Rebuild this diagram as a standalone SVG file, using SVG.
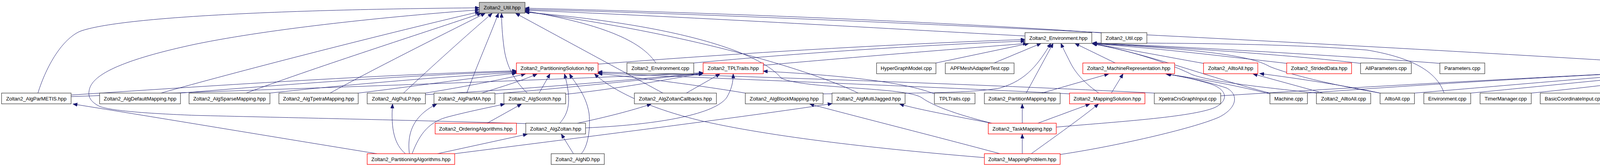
<svg xmlns="http://www.w3.org/2000/svg" width="5987" height="427" viewBox="0 0 5987 427">
<style>
.n rect{fill:#fff;stroke:#404040;stroke-width:1.3}
.n.r rect{stroke:#ff0000}
.n.g rect{fill:#bfbfbf}
text{font-family:"Liberation Sans",Arial,sans-serif;font-size:13px;text-anchor:middle;fill:#000}
#edges path{fill:none;stroke:#191970;stroke-width:1;marker-end:url(#a)}
</style>
<defs>
<marker id="a" markerWidth="12" markerHeight="9" refX="11" refY="4.5" orient="auto" markerUnits="userSpaceOnUse"><path d="M0,0 L11,4.5 L0,9 z" fill="#191970" stroke="#191970" stroke-width="1"/></marker>
</defs>
<rect width="5987" height="427" fill="#fff"/>
<g id="edges">
<path d="M97,238 C120,165 160,100 205,80 C310,42 750,24 1227,20"/>
<path d="M1347,316 C1000,306 700,300 500,295 C400,291 290,285 255,272 C235,262 225,250 228,233 C232,200 280,160 500,113 C700,72 1000,42 1227,25"/>
<path d="M412,238 C600,185 950,95 1227,30"/>
<path d="M630,238 C800,175 1050,95 1232,34"/>
<path d="M845,238 C950,180 1120,95 1242,34"/>
<path d="M1033,238 C1100,175 1200,85 1260,34"/>
<path d="M1195,238 C1220,170 1255,90 1276,34"/>
<path d="M1350,238 C1310,200 1295,160 1290,120 C1286,90 1284,60 1284,34"/>
<path d="M1697,238 L1320,34"/>
<path d="M2819,84 C2600,68 2000,36 1344,21"/>
<path d="M4337,168 C3500,115 2100,42 1344,24"/>
<path d="M2624,92 C2300,75 1800,45 1344,26"/>
<path d="M1679,161 C1650,118 1580,68 1344,28"/>
<path d="M2197,238 C2100,190 1800,90 1344,30"/>
<path d="M2543,316 C2460,296 2390,272 2360,250 C2320,222 2060,228 2000,200 C1960,150 1800,70 1344,31"/>
<path d="M182,243 C600,215 1000,190 1322,181"/>
<path d="M462,238 C800,210 1100,190 1322,183"/>
<path d="M691,238 C900,215 1150,195 1322,185"/>
<path d="M917,238 C1050,222 1200,200 1322,187"/>
<path d="M1089,238 C1200,220 1300,200 1345,189"/>
<path d="M1233,238 C1290,220 1340,205 1375,189"/>
<path d="M1380,238 L1408,189"/>
<path d="M1433,315 C1455,290 1465,260 1445,189"/>
<path d="M1488,393 C1505,375 1512,330 1508,290 C1500,240 1470,210 1458,189"/>
<path d="M2520,403 C2300,385 2000,355 1800,310 C1650,275 1560,225 1522,189"/>
<path d="M2738,240 C2400,222 1800,200 1531,186"/>
<path d="M1908,238 C1800,220 1650,200 1531,188"/>
<path d="M2955,238 C2500,215 1900,195 1531,184"/>
<path d="M182,247 C800,225 1400,205 1800,186"/>
<path d="M1089,242 C1400,225 1650,200 1800,187"/>
<path d="M1267,240 C1500,220 1700,198 1800,188"/>
<path d="M1448,241 C1600,225 1720,200 1800,188"/>
<path d="M1757,238 L1843,189"/>
<path d="M1499,327 C1700,318 1830,290 1860,250 C1873,228 1877,210 1877,189"/>
<path d="M2392,240 C2330,215 2200,195 1954,182"/>
<path d="M1531,164 C1900,135 2300,112 2624,101"/>
<path d="M1776,161 C2000,140 2300,118 2624,105"/>
<path d="M1954,167 C2200,145 2450,125 2630,111"/>
<path d="M2396,161 L2634,111"/>
<path d="M2545,161 L2665,111"/>
<path d="M2107,240 C2300,238 2480,240 2560,225 C2630,205 2660,160 2690,111"/>
<path d="M2627,238 L2696,111"/>
<path d="M2813,238 C2780,215 2755,190 2740,160 C2730,140 2722,125 2716,111"/>
<path d="M2855,161 L2752,111"/>
<path d="M3697,238 C3680,190 3630,150 3500,128 C3300,112 3050,110 2797,110"/>
<path d="M3686,162 C3400,140 3000,118 2797,110"/>
<path d="M3483,162 C3300,140 3000,120 2797,111"/>
<path d="M3294,162 C3100,140 2950,122 2797,112"/>
<path d="M3081,162 C3000,148 2900,128 2797,112"/>
<path d="M3370,238 C3250,225 3100,210 3050,190 C3000,165 2900,130 2797,112"/>
<path d="M3533,238 C3400,215 3300,190 3250,170 C3200,140 3050,125 2797,111"/>
<path d="M3251,238 C3100,200 2950,140 2797,112"/>
<path d="M2667,238 L2838,189"/>
<path d="M2845,238 L2875,189"/>
<path d="M3251,240 C3150,215 3060,200 2985,189"/>
<path d="M2704,325 C2850,312 3050,300 3110,275 C3150,255 3140,225 3090,212 C3050,200 3010,193 2985,189"/>
<path d="M2714,395 C2850,375 3050,330 3120,300 C3170,275 3170,240 3140,225 C3080,205 3020,195 2987,189"/>
<path d="M3387,238 L3208,189"/>
<path d="M3533,238 C3450,220 3320,200 3225,188"/>
<path d="M3125,245 C3600,215 4000,195 4337,178"/>
<path d="M3347,238 C3700,212 4050,192 4337,179"/>
<path d="M3621,238 C3900,215 4150,192 4337,180"/>
<path d="M3765,238 C4000,215 4200,195 4337,182"/>
<path d="M3920,238 C4100,220 4250,200 4340,189"/>
<path d="M4100,238 L4350,189"/>
<path d="M4255,238 L4377,189"/>
<path d="M4421,238 L4421,189"/>
<path d="M4583,238 L4467,189"/>
<path d="M4734,238 C4650,222 4550,205 4503,189"/>
<path d="M4914,238 C4800,220 4600,200 4505,186"/>
<path d="M5114,238 C4900,220 4650,200 4505,183"/>
<path d="M5308,238 C5000,215 4700,195 4505,181"/>
<path d="M5511,238 C5100,213 4750,193 4505,179"/>
<path d="M5652,238 C5200,210 4800,190 4505,178"/>
<path d="M5809,238 C5300,208 4850,188 4505,177"/>
<path d="M965,393 C700,350 400,300 187,266"/>
<path d="M1038,393 C1010,370 1000,330 1005,266"/>
<path d="M1048,393 C1043,350 1050,300 1118,266"/>
<path d="M1055,393 C1075,340 1100,310 1150,298 C1200,285 1250,275 1292,266"/>
<path d="M1247,315 L1335,266"/>
<path d="M1478,315 C1550,300 1620,282 1667,266"/>
<path d="M2560,393 C2400,350 2200,300 2073,266"/>
<path d="M1164,393 C1500,350 1900,300 2130,265"/>
<path d="M2543,316 C2450,298 2350,280 2303,266"/>
<path d="M2617,315 L2617,266"/>
<path d="M2657,315 L2790,266"/>
<path d="M2640,393 C2700,350 2770,300 2812,266"/>
<path d="M1120,393 L1350,343"/>
<path d="M1468,393 L1437,343"/>
<path d="M2617,393 L2617,343"/>
</g>
<g id="n_util" class="n g"><rect x="1227" y="6" width="117" height="27.5"/><text x="1285.5" y="24">Zoltan2_Util.hpp</text></g>
<g id="n_env" class="n"><rect x="2624" y="83.5" width="171" height="27.5"/><text x="2709.5" y="101.5">Zoltan2_Environment.hpp</text></g>
<g id="n_utilcpp" class="n"><rect x="2819" y="83.5" width="117" height="27.5"/><text x="2877.5" y="101.5">Zoltan2_Util.cpp</text></g>
<g id="n_ps" class="n r"><rect x="1322" y="161" width="209" height="27.5"/><text x="1426.5" y="179">Zoltan2_PartitioningSolution.hpp</text></g>
<g id="n_envcpp" class="n"><rect x="1605" y="161" width="171" height="27.5"/><text x="1690.5" y="179">Zoltan2_Environment.cpp</text></g>
<g id="n_tpl" class="n r"><rect x="1800" y="161" width="154" height="27.5"/><text x="1877" y="179">Zoltan2_TPLTraits.hpp</text></g>
<g id="n_hgm" class="n"><rect x="2244" y="161" width="152" height="27.5"/><text x="2320" y="179">HyperGraphModel.cpp</text></g>
<g id="n_apf" class="n"><rect x="2420" y="161" width="176" height="27.5"/><text x="2508" y="179">APFMeshAdapterTest.cpp</text></g>
<g id="n_mach" class="n r"><rect x="2772" y="161" width="235" height="27.5"/><text x="2889.5" y="179">Zoltan2_MachineRepresentation.hpp</text></g>
<g id="n_a2ah" class="n r"><rect x="3081" y="161" width="139" height="27.5"/><text x="3150.5" y="179">Zoltan2_AlltoAll.hpp</text></g>
<g id="n_sd" class="n r"><rect x="3294" y="161" width="166" height="27.5"/><text x="3377" y="179">Zoltan2_StridedData.hpp</text></g>
<g id="n_allp" class="n"><rect x="3483" y="161" width="130" height="27.5"/><text x="3548" y="179">AllParameters.cpp</text></g>
<g id="n_par" class="n"><rect x="3686" y="161" width="115" height="27.5"/><text x="3743.5" y="179">Parameters.cpp</text></g>
<g id="n_th" class="n r"><rect x="4337" y="161" width="168" height="27.5"/><text x="4421" y="179">Zoltan2_TestHelpers.hpp</text></g>
<g id="n_parmetis" class="n"><rect x="4" y="238" width="178" height="27.5"/><text x="93" y="256.5">Zoltan2_AlgParMETIS.hpp</text></g>
<g id="n_defmap" class="n"><rect x="255" y="238" width="207" height="27.5"/><text x="358.5" y="256.5">Zoltan2_AlgDefaultMapping.hpp</text></g>
<g id="n_spmap" class="n"><rect x="484" y="238" width="207" height="27.5"/><text x="587.5" y="256.5">Zoltan2_AlgSparseMapping.hpp</text></g>
<g id="n_tpmap" class="n"><rect x="714" y="238" width="203" height="27.5"/><text x="815.5" y="256.5">Zoltan2_AlgTpetraMapping.hpp</text></g>
<g id="n_pulp" class="n"><rect x="940" y="238" width="149" height="27.5"/><text x="1014.5" y="256.5">Zoltan2_AlgPuLP.hpp</text></g>
<g id="n_parma" class="n"><rect x="1111" y="238" width="156" height="27.5"/><text x="1189" y="256.5">Zoltan2_AlgParMA.hpp</text></g>
<g id="n_scotch" class="n"><rect x="1290" y="238" width="158" height="27.5"/><text x="1369" y="256.5">Zoltan2_AlgScotch.hpp</text></g>
<g id="n_zcb" class="n"><rect x="1624" y="238" width="210" height="27.5"/><text x="1729" y="256.5">Zoltan2_AlgZoltanCallbacks.hpp</text></g>
<g id="n_block" class="n"><rect x="1908" y="238" width="199" height="27.5"/><text x="2007.5" y="256.5">Zoltan2_AlgBlockMapping.hpp</text></g>
<g id="n_mj" class="n"><rect x="2130" y="238" width="187" height="27.5"/><text x="2223.5" y="256.5">Zoltan2_AlgMultiJagged.hpp</text></g>
<g id="n_tplcpp" class="n"><rect x="2392" y="238" width="104" height="27.5"/><text x="2444" y="256.5">TPLTraits.cpp</text></g>
<g id="n_pmap" class="n"><rect x="2520" y="238" width="194" height="27.5"/><text x="2617" y="256.5">Zoltan2_PartitionMapping.hpp</text></g>
<g id="n_msol" class="n r"><rect x="2738" y="238" width="193" height="27.5"/><text x="2834.5" y="256.5">Zoltan2_MappingSolution.hpp</text></g>
<g id="n_xcg" class="n"><rect x="2955" y="238" width="170" height="27.5"/><text x="3040" y="256.5">XpetraCrsGraphInput.cpp</text></g>
<g id="n_machcpp" class="n"><rect x="3251" y="238" width="96" height="27.5"/><text x="3299" y="256.5">Machine.cpp</text></g>
<g id="n_a2acpp" class="n"><rect x="3370" y="238" width="139" height="27.5"/><text x="3439.5" y="256.5">Zoltan2_AlltoAll.cpp</text></g>
<g id="n_a2a" class="n"><rect x="3533" y="238" width="88" height="27.5"/><text x="3577" y="256.5">AlltoAll.cpp</text></g>
<g id="n_envtest" class="n"><rect x="3645" y="238" width="120" height="27.5"/><text x="3705" y="256.5">Environment.cpp</text></g>
<g id="n_timer" class="n"><rect x="3789" y="238" width="131" height="27.5"/><text x="3854.5" y="256.5">TimerManager.cpp</text></g>
<g id="n_bci" class="n"><rect x="3943" y="238" width="172" height="27.5"/><text x="4029" y="256.5">BasicCoordinateInput.cpp</text></g>
<g id="n_bii" class="n"><rect x="4138" y="238" width="159" height="27.5"/><text x="4217.5" y="256.5">BasicIdentifierInput.cpp</text></g>
<g id="n_bkii" class="n"><rect x="4320" y="238" width="203" height="27.5"/><text x="4421.5" y="256.5">BasicKokkosIdentifierInput.cpp</text></g>
<g id="n_bvi" class="n"><rect x="4546" y="238" width="147" height="27.5"/><text x="4619.5" y="256.5">BasicVectorInput.cpp</text></g>
<g id="n_trg" class="n"><rect x="4717" y="238" width="174" height="27.5"/><text x="4804" y="256.5">TpetraRowGraphInput.cpp</text></g>
<g id="n_trm" class="n"><rect x="4914" y="238" width="177" height="27.5"/><text x="5002.5" y="256.5">TpetraRowMatrixInput.cpp</text></g>
<g id="n_xcm" class="n"><rect x="5114" y="238" width="171" height="27.5"/><text x="5199.5" y="256.5">XpetraCrsMatrixInput.cpp</text></g>
<g id="n_xmv" class="n"><rect x="5308" y="238" width="181" height="27.5"/><text x="5398.5" y="256.5">XpetraMultiVectorInput.cpp</text></g>
<g id="n_xt" class="n"><rect x="5511" y="238" width="119" height="27.5"/><text x="5570.5" y="256.5">XpetraTraits.cpp</text></g>
<g id="n_dbg" class="n"><rect x="5652" y="238" width="135" height="27.5"/><text x="5719.5" y="256.5">DebugManager.cpp</text></g>
<g id="n_mom" class="n"><rect x="5809" y="238" width="173" height="27.5"/><text x="5895.5" y="256.5">MetricOutputManager.cpp</text></g>
<g id="n_ord" class="n r"><rect x="1114" y="315" width="208" height="27.5"/><text x="1218" y="333.5">Zoltan2_OrderingAlgorithms.hpp</text></g>
<g id="n_zoltan" class="n"><rect x="1346" y="315" width="153" height="27.5"/><text x="1422.5" y="333.5">Zoltan2_AlgZoltan.hpp</text></g>
<g id="n_task" class="n r"><rect x="2530" y="315" width="174" height="27.5"/><text x="2617" y="333.5">Zoltan2_TaskMapping.hpp</text></g>
<g id="n_palg" class="n r"><rect x="940" y="393" width="224" height="27.5"/><text x="1052" y="411.5">Zoltan2_PartitioningAlgorithms.hpp</text></g>
<g id="n_nd" class="n"><rect x="1411" y="393" width="136" height="27.5"/><text x="1479" y="411.5">Zoltan2_AlgND.hpp</text></g>
<g id="n_mprob" class="n r"><rect x="2520" y="393" width="194" height="27.5"/><text x="2617" y="411.5">Zoltan2_MappingProblem.hpp</text></g>
</svg>
